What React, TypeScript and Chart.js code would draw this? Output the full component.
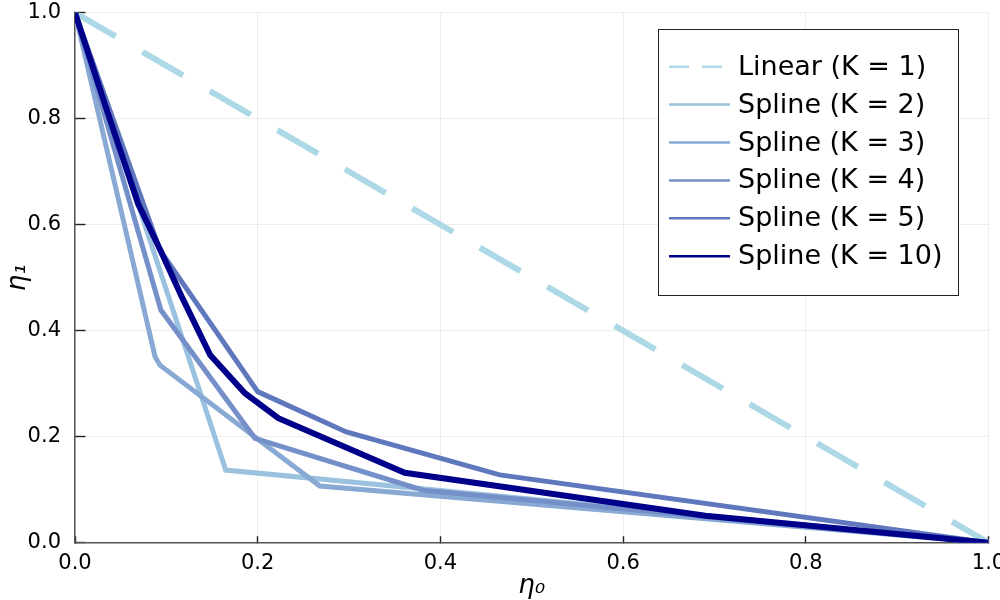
import React, { useEffect, useRef } from 'react';
import Chart from 'chart.js/auto';

// series
const seriesLabels = [
  'Linear (K = 1)',
  'Spline (K = 2)',
  'Spline (K = 3)',
  'Spline (K = 4)',
  'Spline (K = 5)',
  'Spline (K = 10)',
];
const seriesColors = ['#add8e6', '#9ac2de', '#87a9d4', '#7590c9', '#5f77bd', '#00008b'];

const linearX = [0, 1];
const linearY = [1, 0];

const k2X = [0, 0.165, 1];
const k2Y = [1, 0.137, 0];

const k3X = [0, 0.0876, 0.093, 0.268, 1];
const k3Y = [1, 0.351, 0.335, 0.107, 0];

const k4X = [0, 0.094, 0.197, 0.381, 1];
const k4Y = [1, 0.439, 0.197, 0.099, 0];

const k5X = [0, 0.093, 0.2, 0.297, 0.465, 1];
const k5Y = [1, 0.552, 0.285, 0.209, 0.128, 0];

const k10X = [0, 0.036, 0.069, 0.094, 0.118, 0.148, 0.186, 0.2226, 0.361, 0.69, 1];
const k10Y = [1, 0.81, 0.64, 0.55, 0.46, 0.354, 0.282, 0.235, 0.132, 0.051, 0];

const seriesX = [linearX, k2X, k3X, k4X, k5X, k10X];
const seriesY = [linearY, k2Y, k3Y, k4Y, k5Y, k10Y];

const tickValues = [0, 0.2, 0.4, 0.6, 0.8, 1];
const tickLabels = ['0.0', '0.2', '0.4', '0.6', '0.8', '1.0'];

const FONT = '"DejaVu Sans", "Noto Sans", sans-serif';

// framed legend inside the plot, top right
const boxLegend = {
  id: 'boxLegend',
  afterDatasetsDraw(chart: any) {
    const { ctx, chartArea } = chart;
    const left = chartArea.right - 330.5;
    const top = chartArea.top + 16.3;
    const w = 300;
    const h = 266;
    ctx.save();
    ctx.fillStyle = '#ffffff';
    ctx.fillRect(left, top, w, h);
    ctx.strokeStyle = '#222222';
    ctx.lineWidth = 1;
    ctx.strokeRect(left + 0.5, top + 0.5, w, h);
    ctx.font = `27px ${FONT}`;
    ctx.textBaseline = 'middle';
    ctx.textAlign = 'left';
    chart.data.datasets.forEach((ds: any, i: number) => {
      const y = top + 37.7 + i * 37.9;
      ctx.beginPath();
      ctx.setLineDash(ds.borderDash && ds.borderDash.length ? [20, 13] : []);
      ctx.strokeStyle = ds.borderColor;
      ctx.lineWidth = 2.5;
      ctx.moveTo(left + 11, y);
      ctx.lineTo(left + 72, y);
      ctx.stroke();
      ctx.setLineDash([]);
      ctx.fillStyle = '#000000';
      ctx.fillText(ds.label, left + 80, y + 1);
    });
    ctx.restore();
  },
};

const EtaChart: React.FC = () => {
  const chartRef = useRef<HTMLCanvasElement>(null);
  const chartInstance = useRef<Chart | null>(null);

  useEffect(() => {
    document.body.style.margin = '0';
    if (chartInstance.current) {
      chartInstance.current.destroy();
    }
    if (!chartRef.current) return;
    const ctx = chartRef.current.getContext('2d');
    if (!ctx) return;

    const datasets = seriesLabels.map((label, i) => ({
      label,
      data: seriesX[i].map((x, j) => ({ x, y: seriesY[i][j] })),
      borderColor: seriesColors[i],
      backgroundColor: seriesColors[i],
      borderWidth: i === 5 ? 6 : i === 0 ? 6 : 5,
      borderDash: i === 0 ? [47, 31] : [],
      borderCapStyle: 'butt',
      borderJoinStyle: 'miter',
      pointRadius: 0,
      tension: 0,
      fill: false,
      order: seriesLabels.length - i,
    }));

    // @ts-ignore
    chartInstance.current = new Chart(ctx, {
      type: 'line',
      data: { datasets },
      options: {
        animation: false,
        responsive: true,
        maintainAspectRatio: false,
        layout: { padding: { left: 0, top: 12.7, right: 11.5, bottom: 0 } },
        plugins: {
          legend: { display: false },
          tooltip: { enabled: false },
        },
        scales: {
          x: {
            type: 'linear',
            min: 0,
            max: 1,
            afterBuildTicks: (scale: any) => {
              scale.ticks = tickValues.map((value) => ({ value }));
            },
            afterFit: (scale: any) => {
              scale.height = 57.3;
              scale.paddingLeft = 0;
              scale.paddingRight = 0;
            },
            ticks: {
              autoSkip: false,
              maxRotation: 0,
              padding: 15,
              color: '#000000',
              font: { family: FONT, size: 21 },
              callback: (_v: any, i: number) => tickLabels[i],
            },
            grid: {
              color: 'rgba(0,0,0,0.07)',
              lineWidth: 1,
              tickLength: -6.5,
              tickColor: '#222222',
              tickWidth: 1.4,
            },
            border: { color: '#555555', width: 1.5 },
            title: {
              display: true,
              text: 'η₀',
              color: '#000000',
              font: { family: FONT, size: 26, style: 'italic' },
              padding: { top: 0, bottom: -2 },
            },
          },
          y: {
            type: 'linear',
            min: 0,
            max: 1,
            afterBuildTicks: (scale: any) => {
              scale.ticks = tickValues.map((value) => ({ value }));
            },
            afterFit: (scale: any) => {
              scale.width = 75;
              scale.paddingTop = 0;
              scale.paddingBottom = 0;
            },
            ticks: {
              autoSkip: false,
              padding: 24.5,
              color: '#000000',
              font: { family: FONT, size: 21 },
              callback: (_v: any, i: number) => tickLabels[i],
            },
            grid: {
              color: 'rgba(0,0,0,0.07)',
              lineWidth: 1,
              tickLength: -10.5,
              tickColor: '#222222',
              tickWidth: 1.4,
            },
            border: { color: '#555555', width: 1.5 },
            title: {
              display: true,
              text: 'η₁',
              color: '#000000',
              font: { family: FONT, size: 26, style: 'italic' },
              padding: { top: 3, bottom: 0 },
            },
          },
        },
      },
      plugins: [boxLegend],
    });

    return () => {
      if (chartInstance.current) {
        chartInstance.current.destroy();
        chartInstance.current = null;
      }
    };
  }, []);

  return (
    <div style={{ position: 'absolute', left: 0, top: 0, width: 1000, height: 600, background: '#ffffff' }}>
      <canvas ref={chartRef}></canvas>
    </div>
  );
};

export default function App() {
  return <EtaChart />;
}
